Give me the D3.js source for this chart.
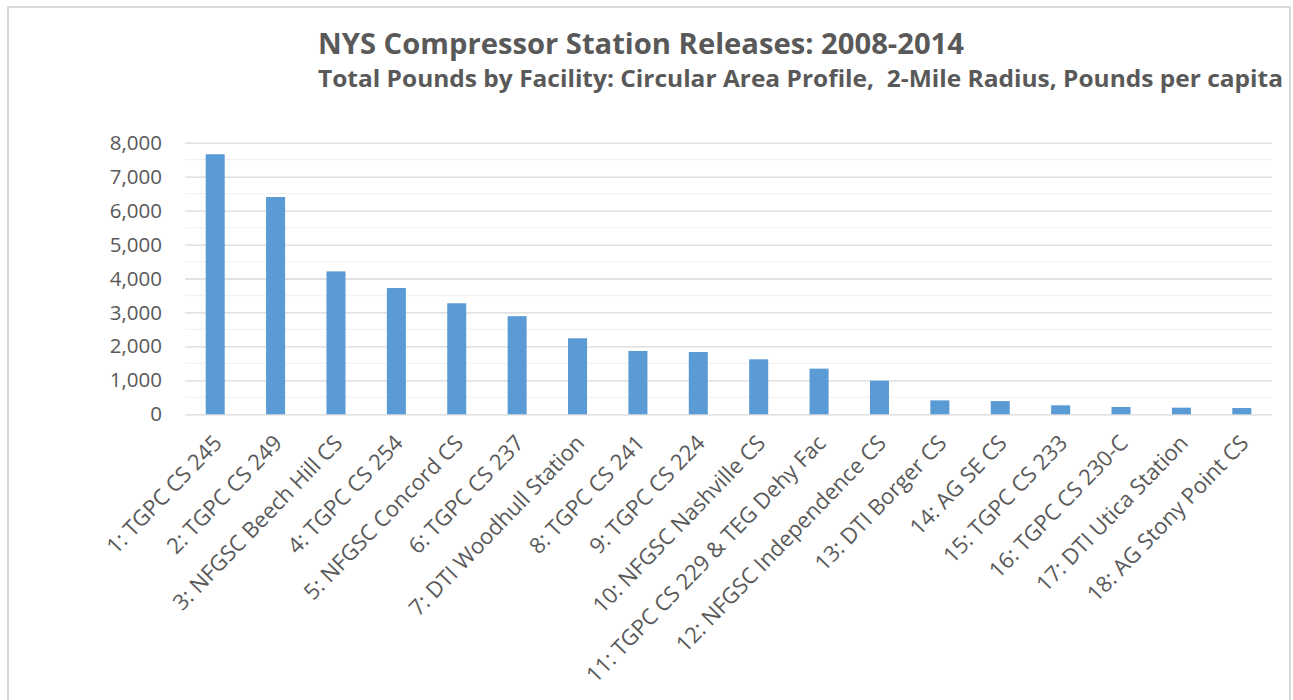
<!DOCTYPE html>
<html>
<head>
<meta charset="utf-8">
<script src="https://cdn.jsdelivr.net/npm/d3@7"></script>
<style>
  html, body { margin: 0; padding: 0; background: #fff; }
  svg { display: block; }
  text { font-family: "Open Sans", "Liberation Sans", sans-serif; fill: #595959; }
</style>
</head>
<body>
<svg id="chart" width="1293" height="700"></svg>
<script>
const categories = [
  "1: TGPC CS 245", "2: TGPC CS 249", "3: NFGSC Beech Hill CS", "4: TGPC CS 254",
  "5: NFGSC Concord CS", "6: TGPC CS 237", "7: DTI Woodhull Station", "8: TGPC CS 241",
  "9: TGPC CS 224", "10: NFGSC Nashville CS", "11: TGPC CS 229 & TEG Dehy Fac",
  "12: NFGSC Independence CS", "13: DTI Borger CS", "14: AG SE CS", "15: TGPC CS 233",
  "16: TGPC CS 230-C", "17: DTI Utica Station", "18: AG Stony Point CS"
];
const values = [7660, 6400, 4210, 3720, 3270, 2890, 2240, 1865, 1835, 1620, 1345, 990, 410, 390, 265, 215, 195, 185];
const yTicks = [0, 1000, 2000, 3000, 4000, 5000, 6000, 7000, 8000];
const yMinorTicks = [500, 1500, 2500, 3500, 4500, 5500, 6500, 7500];
const titleText = "NYS Compressor Station Releases: 2008-2014";
const subtitleText = "Total Pounds by Facility: Circular Area Profile,  2-Mile Radius, Pounds per capita";

const svg = d3.select("#chart");
const plot = { left: 185, right: 1272, top: 142.7, bottom: 414.3 };

// outer frame
svg.append("path")
  .attr("d", "M8,710 L8,7 L1290,7 L1290,710")
  .attr("fill", "none").attr("stroke", "#d9d9d9").attr("stroke-width", 2);

const x = d3.scaleBand().domain(categories).range([plot.left, plot.right]).paddingInner(0.685).paddingOuter(0.3425);
const y = d3.scaleLinear().domain([0, 8000]).range([plot.bottom, plot.top]);

// minor gridlines
svg.append("g").selectAll("line").data(yMinorTicks).join("line")
  .attr("x1", plot.left).attr("x2", plot.right)
  .attr("y1", d => y(d)).attr("y2", d => y(d))
  .attr("stroke", "#f2f2f2").attr("stroke-width", 1.3);

// major gridlines
const yAxis = d3.axisLeft(y).tickValues(yTicks).tickSize(-(plot.right - plot.left)).tickPadding(23)
  .tickFormat(d3.format(","));
const gy = svg.append("g").attr("transform", `translate(${plot.left},0)`).call(yAxis);
gy.select(".domain").remove();
gy.selectAll(".tick line").attr("stroke", "#d9d9d9").attr("stroke-width", 1.3);
gy.selectAll(".tick text").attr("font-size", 20.5).attr("fill", "#595959")
  .style("font-family", "'Open Sans', sans-serif");

// bars
svg.append("g").selectAll("rect").data(values).join("rect")
  .attr("x", (d, i) => x(categories[i]))
  .attr("width", x.bandwidth())
  .attr("y", d => y(d))
  .attr("height", d => y(0) - y(d))
  .attr("fill", "#5b9bd5");

// x labels
const xAxis = d3.axisBottom(x).tickSize(0).tickPadding(0);
const gx = svg.append("g").attr("transform", `translate(0,${plot.bottom})`).call(xAxis);
gx.select(".domain").remove();
gx.selectAll(".tick text")
  .attr("font-size", 22)
  .attr("fill", "#595959")
  .style("font-family", "'Open Sans', sans-serif")
  .attr("text-anchor", "end")
  .attr("dy", 0)
  .attr("y", 0)
  .attr("transform", "translate(8,30) rotate(-46)");

// titles
svg.append("text").attr("x", 641).attr("y", 54).attr("text-anchor", "middle")
  .attr("font-size", 28).attr("font-weight", "bold")
  .attr("textLength", 646).attr("lengthAdjust", "spacingAndGlyphs")
  .text(titleText);
svg.append("text").attr("x", 318).attr("y", 87).attr("text-anchor", "start")
  .attr("font-size", 23).attr("font-weight", "bold")
  .style("white-space", "pre")
  .attr("textLength", 965).attr("lengthAdjust", "spacingAndGlyphs")
  .text(subtitleText);
</script>
</body>
</html>
